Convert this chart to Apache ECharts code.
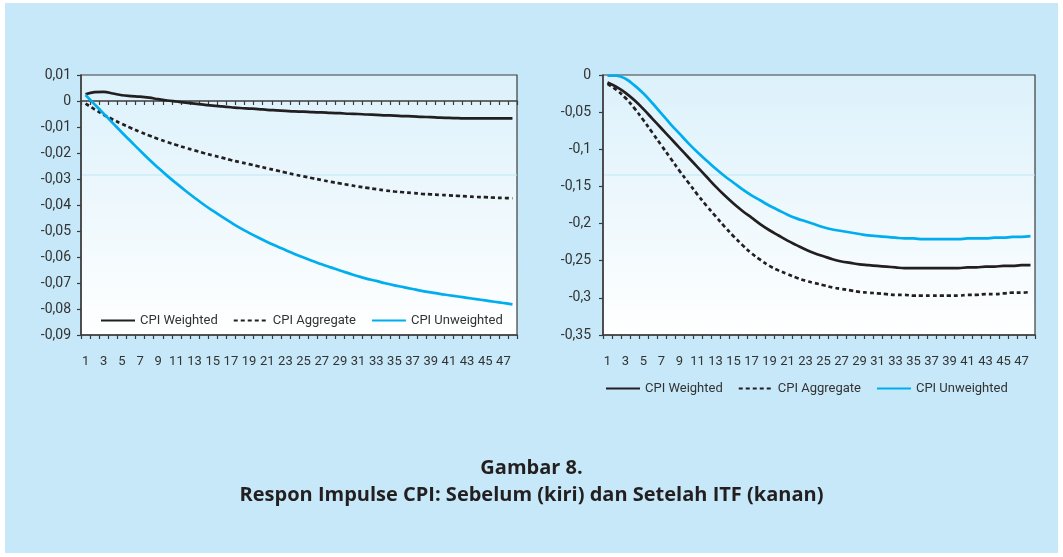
<!DOCTYPE html>
<html>
<head>
<meta charset="utf-8">
<script src="https://cdn.jsdelivr.net/npm/echarts@6/dist/echarts.min.js"></script>
<style>
  html, body { margin: 0; padding: 0; background: #ffffff; }
  #frame { position: absolute; left: 5px; top: 3px; width: 1053px; height: 550px; background: #c6e8f8; }
  #chart { position: absolute; left: 0; top: 0; width: 1063px; height: 557px; }
</style>
</head>
<body>
<div id="frame"></div>
<div id="chart"></div>
<script>
// Horizon (periods after the shock)
const periods = ['1','2','3','4','5','6','7','8','9','10','11','12','13','14','15','16','17','18','19','20',
  '21','22','23','24','25','26','27','28','29','30','31','32','33','34','35','36','37','38','39','40',
  '41','42','43','44','45','46','47','48'];

// Before ITF (left panel)
const beforeWeighted = [0.0026,0.0034,0.0035,0.0029,0.0022,0.0019,0.0017,0.0013,0.0007,0.0002,
  -0.0002,-0.0006,-0.0010,-0.0014,-0.0018,-0.0021,-0.0024,-0.0027,-0.0029,-0.0031,
  -0.0034,-0.0036,-0.0038,-0.0040,-0.0041,-0.0043,-0.0044,-0.0046,-0.0047,-0.0049,
  -0.0050,-0.0052,-0.0053,-0.0055,-0.0056,-0.0058,-0.0059,-0.0061,-0.0062,-0.0064,
  -0.0065,-0.0066,-0.0067,-0.0067,-0.0067,-0.0067,-0.0067,-0.0067];
const beforeAggregate = [-0.0010,-0.0032,-0.0053,-0.0071,-0.0088,-0.0104,-0.0119,-0.0133,-0.0146,-0.0158,
  -0.0169,-0.0180,-0.0190,-0.0200,-0.0209,-0.0218,-0.0227,-0.0235,-0.0243,-0.0251,
  -0.0259,-0.0267,-0.0275,-0.0283,-0.0290,-0.0297,-0.0304,-0.0311,-0.0317,-0.0323,
  -0.0329,-0.0334,-0.0339,-0.0344,-0.0348,-0.0351,-0.0354,-0.0357,-0.0359,-0.0361,
  -0.0363,-0.0365,-0.0367,-0.0369,-0.0370,-0.0372,-0.0373,-0.0374];
const beforeUnweighted = [0.0023,-0.0013,-0.0049,-0.0085,-0.0121,-0.0156,-0.0191,-0.0225,-0.0257,-0.0288,
  -0.0317,-0.0345,-0.0372,-0.0398,-0.0422,-0.0445,-0.0467,-0.0488,-0.0507,-0.0525,
  -0.0542,-0.0558,-0.0573,-0.0588,-0.0602,-0.0615,-0.0628,-0.0640,-0.0652,-0.0663,
  -0.0674,-0.0684,-0.0692,-0.0701,-0.0709,-0.0716,-0.0723,-0.0730,-0.0736,-0.0742,
  -0.0747,-0.0752,-0.0757,-0.0762,-0.0767,-0.0772,-0.0777,-0.0782];

// After ITF (right panel)
const afterWeighted = [-0.010,-0.016,-0.024,-0.034,-0.046,-0.059,-0.072,-0.085,-0.098,-0.111,
  -0.124,-0.137,-0.150,-0.162,-0.173,-0.183,-0.192,-0.201,-0.209,-0.216,
  -0.223,-0.229,-0.235,-0.240,-0.244,-0.248,-0.251,-0.253,-0.255,-0.256,
  -0.257,-0.258,-0.259,-0.260,-0.260,-0.260,-0.260,-0.260,-0.260,-0.260,
  -0.259,-0.259,-0.258,-0.258,-0.257,-0.257,-0.256,-0.256];
const afterAggregate = [-0.012,-0.020,-0.031,-0.045,-0.061,-0.078,-0.095,-0.112,-0.129,-0.145,
  -0.161,-0.176,-0.190,-0.204,-0.217,-0.229,-0.240,-0.249,-0.257,-0.263,
  -0.268,-0.273,-0.277,-0.280,-0.283,-0.286,-0.288,-0.290,-0.292,-0.293,
  -0.294,-0.295,-0.296,-0.296,-0.297,-0.297,-0.297,-0.297,-0.297,-0.297,
  -0.296,-0.296,-0.295,-0.295,-0.294,-0.293,-0.293,-0.292];
const afterUnweighted = [-0.001,-0.001,-0.005,-0.014,-0.025,-0.038,-0.052,-0.066,-0.079,-0.092,
  -0.104,-0.115,-0.126,-0.136,-0.145,-0.154,-0.162,-0.169,-0.176,-0.182,
  -0.188,-0.193,-0.197,-0.201,-0.205,-0.208,-0.210,-0.212,-0.214,-0.216,
  -0.217,-0.218,-0.219,-0.220,-0.220,-0.221,-0.221,-0.221,-0.221,-0.221,
  -0.220,-0.220,-0.220,-0.219,-0.219,-0.218,-0.218,-0.217];

const seriesNames = ['CPI Weighted', 'CPI Aggregate', 'CPI Unweighted'];
const figureTitle = 'Gambar 8.';
const figureSubtitle = 'Respon Impulse CPI: Sebelum (kiri) dan Setelah ITF (kanan)';

const FONT = 'Roboto, "Open Sans", sans-serif';
const INK = '#231f20';
const BLUE = '#00aeef';
const AXIS = '#3c3c3c';

const gridBox = [
  { left: 81, top: 75, width: 436, height: 260 },
  { left: 603, top: 75, width: 432, height: 260 }
];

const plotFill = new echarts.graphic.LinearGradient(0, 0, 0, 1, [
  { offset: 0, color: '#dcf1fb' },
  { offset: 1, color: '#ffffff' }
]);

function decimalComma(v) {
  const r = Math.round(v * 100) / 100;
  return String(r === 0 ? 0 : r).replace('.', ',');
}

function valueAxis(gridIndex, min, max, interval, labelMargin) {
  return {
    type: 'value', gridIndex, min, max, interval,
    axisLine: { show: true, lineStyle: { color: AXIS, width: 1.5 } },
    axisTick: { show: true, inside: false, length: 4, lineStyle: { color: AXIS, width: 1.2 } },
    splitLine: { show: false },
    axisLabel: { formatter: decimalComma, color: '#333', fontSize: 14, fontFamily: FONT, margin: labelMargin }
  };
}

function categoryAxis(gridIndex, labelled, onZero) {
  return {
    type: 'category', gridIndex, data: periods, boundaryGap: true, position: 'bottom',
    axisLine: { show: true, onZero: onZero, lineStyle: { color: AXIS, width: 1.5 } },
    axisTick: { show: true, interval: 0, inside: false, length: 4, lineStyle: { color: AXIS, width: 1.2 } },
    axisLabel: { show: labelled, interval: 1, color: '#333', fontSize: 13, fontFamily: FONT, margin: 20 },
    splitLine: { show: false }
  };
}

function lineSeries(name, data, xAxisIndex, yAxisIndex, color, dashed) {
  return {
    name, type: 'line', data, xAxisIndex, yAxisIndex,
    smooth: 0.4, symbol: 'none', showSymbol: false,
    lineStyle: { color, width: 2.7, type: dashed ? [4, 3] : 'solid', cap: 'butt' },
    itemStyle: { color },
    z: 3
  };
}

function legendAt(left, top) {
  return {
    left, top, orient: 'horizontal', itemWidth: 34, itemHeight: 14, itemGap: 15,
    data: seriesNames, selectedMode: false,
    itemStyle: { opacity: 0 },
    lineStyle: { opacity: 1 },
    textStyle: { color: '#333', fontSize: 13, fontFamily: FONT }
  };
}

const chart = echarts.init(document.getElementById('chart'), null, { renderer: 'canvas' });

const titleText = { color: INK, fontSize: 20, fontWeight: 'bold', fontFamily: '"Open Sans", sans-serif' };

chart.setOption({
  backgroundColor: 'transparent',
  animation: false,
  title: [
    { text: figureTitle, left: 'center', top: 458, padding: 0, textStyle: titleText },
    { text: figureSubtitle, left: 'center', top: 485, padding: 0, textStyle: titleText }
  ],
  legend: [legendAt(95, 309), legendAt(600, 377)],
  grid: gridBox.map(g => Object.assign({
    show: true, backgroundColor: plotFill, borderColor: AXIS, borderWidth: 1.2, containLabel: false
  }, g)),
  xAxis: [
    categoryAxis(0, true, false),
    categoryAxis(0, false, true),
    categoryAxis(1, true, false)
  ],
  yAxis: [
    valueAxis(0, -0.09, 0.01, 0.01, 10),
    valueAxis(1, -0.35, 0, 0.05, 12)
  ],
  graphic: gridBox.map(g => ({
    type: 'line', z: 1, silent: true,
    shape: { x1: g.left + 1, y1: 175, x2: g.left + g.width, y2: 175 },
    style: { stroke: '#bfe6f7', lineWidth: 1 }
  })),
  series: [
    lineSeries(seriesNames[0], beforeWeighted, 0, 0, INK, false),
    lineSeries(seriesNames[1], beforeAggregate, 0, 0, INK, true),
    lineSeries(seriesNames[2], beforeUnweighted, 0, 0, BLUE, false),
    lineSeries(seriesNames[0], afterWeighted, 2, 1, INK, false),
    lineSeries(seriesNames[1], afterAggregate, 2, 1, INK, true),
    lineSeries(seriesNames[2], afterUnweighted, 2, 1, BLUE, false)
  ]
});
</script>
</body>
</html>
